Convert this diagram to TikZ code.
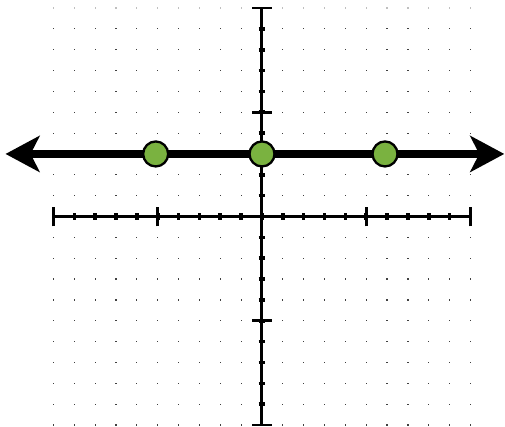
\documentclass[tikz,border=0pt]{standalone}
\usetikzlibrary{arrows.meta}
\definecolor{ptgreen}{RGB}{122,178,64}
\begin{document}
\begin{tikzpicture}[x=20.85pt,y=20.85pt,
  axisline/.style={line width=3pt},
  majortick/.style={line width=2.6pt},
  minortick/.style={line width=3.6pt},
  pt/.style={circle,draw=black,line width=2.3pt,fill=ptgreen,minimum size=25pt,inner sep=0pt},
  bigline/.style={line width=7.5pt,-{Stealth[length=34pt,width=36pt,inset=9pt]}}]
\useasboundingbox (-12.566,-10.096) rectangle (11.655,10.384);
% dot grid
\foreach \i in {-10,...,10}{\foreach \j in {-10,...,9}{
  \fill[black!75] (\i,\j) ++(-0.6pt,-0.6pt) rectangle ++(1.2pt,1.2pt);}}
\foreach \i in {-10,...,10}{
  \fill[black!25] (\i,10) ++(-0.6pt,-0.6pt) rectangle ++(1.2pt,1.2pt);}
% axes
\draw[axisline] (-10,0) -- (10,0);
\draw[axisline] (0,-10) -- (0,10);
\foreach \i in {-9,...,9}{
  \draw[minortick] (\i,-3.4pt) -- (\i,3.4pt);
  \draw[minortick] (-3.4pt,\i) -- (3.4pt,\i);}
\foreach \i in {-10,-5,5,10}{
  \draw[majortick] (\i,-9.8pt) -- (\i,9.8pt);
  \draw[majortick] (-9.8pt,\i) -- (9.8pt,\i);}
% line with points
\coordinate (L) at (-12.3,3);
\coordinate (R) at (11.62,3);
\coordinate (M) at (0,3);
\draw[bigline] (M) -- (L);
\draw[bigline] (M) -- (R);
\node[pt] (p1) at (-5.1,3) {};
\node[pt] (p2) at (0,3) {};
\node[pt] (p3) at (5.9,3) {};
\end{tikzpicture}
\end{document}
